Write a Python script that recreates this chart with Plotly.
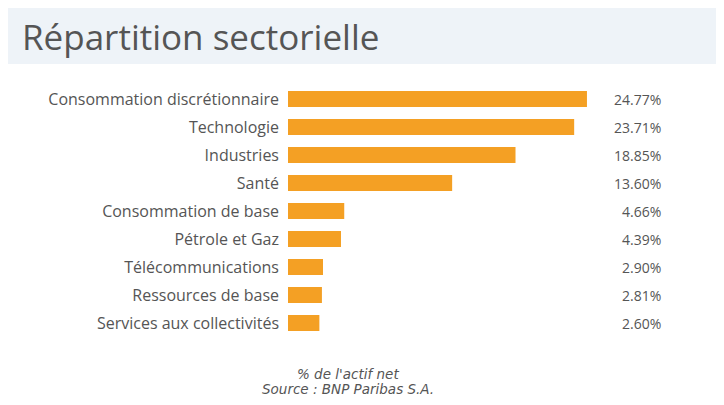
import plotly.graph_objects as go

categories = ["Consommation discrétionnaire", "Technologie", "Industries", "Santé",
              "Consommation de base", "Pétrole et Gaz", "Télécommunications",
              "Ressources de base", "Services aux collectivités"]
values = [24.77, 23.71, 18.85, 13.60, 4.66, 4.39, 2.90, 2.81, 2.60]
value_labels = ["24.77%", "23.71%", "18.85%", "13.60%", "4.66%", "4.39%", "2.90%", "2.81%", "2.60%"]

# page body has an 8px margin, so the figure is offset by (8, 8)
OFF = 8
W, H = 724 - 2 * OFF, 405 - 2 * OFF
left, right = 288 - OFF, 663 - OFF
top = 85 - OFF
ph = 252
pw = right - left
xmax = 31.07
text_color = "#555555"
font_family = "'Open Sans', Lato, sans-serif"


def px(x):
    return (x - OFF - left) / pw


def py(y):
    return (top + ph - (y - OFF)) / ph


fig = go.Figure()
fig.add_trace(go.Bar(
    x=values, y=categories, orientation="h",
    marker=dict(color="#F4A024", line=dict(width=0)),
    width=0.57, hoverinfo="skip",
))

for c, lab in zip(categories, value_labels):
    fig.add_annotation(x=xmax, y=c, xref="x", yref="y", text=lab, showarrow=False,
                       xanchor="right", font=dict(size=14, color=text_color, family=font_family))

fig.add_shape(type="rect", xref="paper", yref="paper",
              x0=px(8), x1=px(730), y0=py(64), y1=py(0),
              fillcolor="#EEF3F8", line=dict(width=0), layer="below")

fig.add_annotation(xref="paper", yref="paper", x=px(20),
                   y=py(36), text="Répartition sectorielle", showarrow=False,
                   xanchor="left", yanchor="middle",
                   font=dict(size=35, color=text_color, family=font_family))

fig.add_annotation(xref="paper", yref="paper", x=px(348),
                   y=py(374), text="<i>% de l'actif net</i>", showarrow=False,
                   xanchor="center", yanchor="middle",
                   font=dict(size=13.5, color=text_color, family="'DejaVu Sans', sans-serif"))
fig.add_annotation(xref="paper", yref="paper", x=px(348),
                   y=py(389), text="<i>Source : BNP Paribas S.A.</i>", showarrow=False,
                   xanchor="center", yanchor="middle",
                   font=dict(size=13.5, color=text_color, family="'DejaVu Sans', sans-serif"))

fig.update_layout(
    width=W, height=H,
    margin=dict(l=left, r=W - right, t=top, b=H - top - ph),
    paper_bgcolor="white", plot_bgcolor="white",
    showlegend=False,
    xaxis=dict(range=[0, xmax], visible=False, fixedrange=True),
    yaxis=dict(categoryorder="array", categoryarray=categories[::-1],
               showgrid=False, zeroline=False, showline=False, ticks="",
               ticklabelstandoff=8,
               tickfont=dict(size=16, color=text_color, family=font_family)),
)

fig.write_html("out.html", config={"displayModeBar": False})
